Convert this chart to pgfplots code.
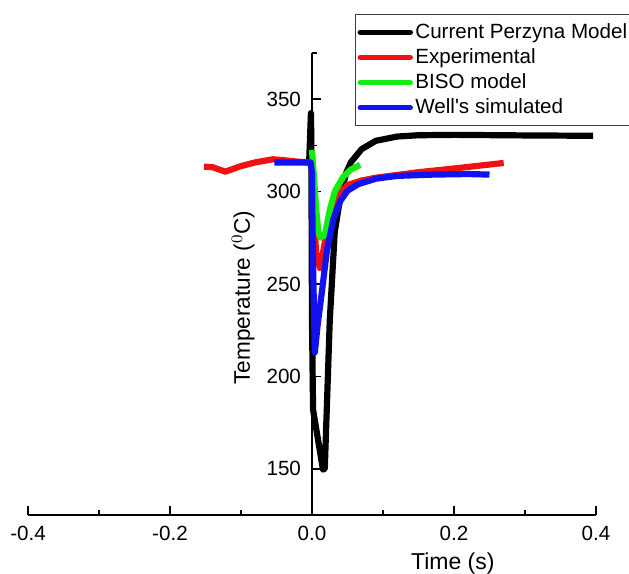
\documentclass[border=0pt]{standalone}
\usepackage{pgfplots}
\pgfplotsset{compat=1.18}
\usepackage{fontspec}
\setmainfont{Liberation Sans}
\definecolor{cred}{RGB}{240,18,18}
\definecolor{cgreen}{RGB}{20,236,20}
\definecolor{cblue}{RGB}{18,18,240}
\begin{document}
\begin{tikzpicture}
\begin{axis}[name=ax, at={(0,0)}, anchor=south west,
  scale only axis, width=284pt, height=231pt,
  xmin=-0.4, xmax=0.4, ymin=125, ymax=375,
  axis x line=bottom, axis y line=middle,
  axis line style={line width=0.9pt, -},
  hide obscured x ticks=false, hide obscured y ticks=false,
  xtick={-0.4,-0.2,0,0.2,0.4}, minor xtick={-0.3,-0.1,0.1,0.3},
  ytick={150,200,250,300,350}, minor ytick={175,225,275,325,375},
  tick align=inside,
  major tick length=4.5pt, minor tick length=2.5pt,
  every tick/.style={black, line width=0.8pt},
  /pgf/number format/assume math mode=true,
  x tick label style={/pgf/number format/fixed, /pgf/number format/fixed zerofill, /pgf/number format/precision=1, yshift=-2pt},
  y tick label style={/pgf/number format/fixed, xshift=-2pt},
  tick label style={font=\fontsize{10.3}{12}\selectfont},
  xlabel={Time (s)}, ylabel={Temperature ($^{0}$C)},
  every axis x label/.style={at={(axis description cs:0.748,-0.0801)}, anchor=north, inner sep=0pt, font=\fontsize{11.5}{13}\selectfont},
  every axis y label/.style={at={(axis description cs:0.3908,0.4708)}, anchor=base, rotate=90, inner sep=0pt, font=\fontsize{11.3}{13}\selectfont},
  legend style={at={(axis description cs:0.5757,1.0844)}, anchor=north west,
    draw=black!75, line width=0.6pt, font=\fontsize{10.3}{12}\selectfont,
    inner xsep=1pt, inner ysep=3.2pt, row sep=1.2pt,
    nodes={inner sep=1.2pt}},
  legend cell align=left,
  legend image code/.code={\draw[#1, line width=2.7pt, line cap=round] (0pt,0pt) -- (25pt,0pt);},
  every axis plot/.append style={line width=3.1pt, line join=round},
  clip=false,
]
\addplot[black] coordinates {
(-0.004,316) (-0.0015,342.5) (-0.001,330) (0.0,230) (0.0015,182) (0.0155,149.5) (0.018,150)
(0.025,230) (0.032,278) (0.039,295) (0.048,310) (0.055,316) (0.07,323) (0.09,327.5)
(0.12,329.8) (0.15,330.5) (0.2,330.7) (0.3,330.4) (0.396,330.2)};
\addlegendentry{Current Perzyna Model\hspace*{5pt}}
\addplot[cred] coordinates {
(-0.152,313.5) (-0.14,313.2) (-0.122,310.8) (-0.10,313.8) (-0.08,315.8) (-0.055,317.5) (-0.04,317)
(-0.02,316.2) (-0.003,315.8) (0.0,312) (0.002,290) (0.006,266) (0.011,258.7) (0.016,268)
(0.022,281) (0.03,292) (0.04,299.5) (0.05,303.5) (0.07,306) (0.09,307.5) (0.12,309)
(0.15,310.5) (0.2,312.5) (0.27,315.5)};
\addlegendentry{Experimental}
\addplot[cgreen] coordinates {
(0.0,322.5) (0.002,312) (0.006,290) (0.009,278) (0.012,275) (0.018,276.5) (0.025,290)
(0.032,300) (0.044,308) (0.055,312) (0.068,314.5)};
\addlegendentry{BISO model}
\addplot[cblue] coordinates {
(-0.053,315.8) (-0.002,315.8) (0.0,310) (0.001,270) (0.004,213) (0.008,228) (0.014,246)
(0.021,268) (0.03,285) (0.04,295) (0.05,300.5) (0.065,304) (0.09,307) (0.12,308.5)
(0.17,309.2) (0.22,309.5) (0.25,309.2)};
\addlegendentry{Well\textquotesingle s simulated}
\end{axis}
\pgfresetboundingbox
\path (ax.south west) ++(-14pt,-29.5pt) rectangle ++(314.5pt,287pt);
\end{tikzpicture}
\end{document}
